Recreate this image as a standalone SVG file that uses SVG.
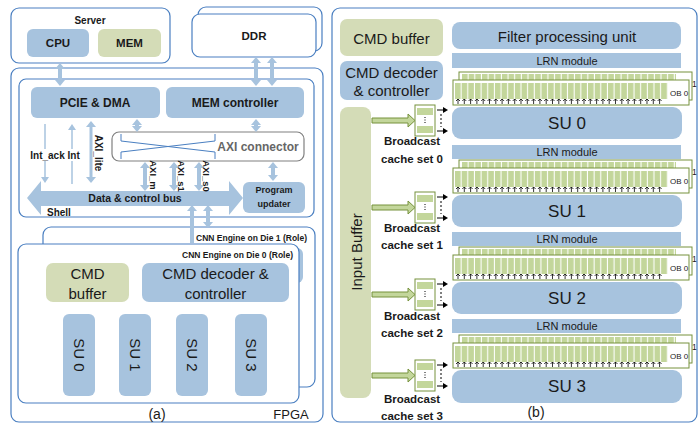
<svg xmlns="http://www.w3.org/2000/svg" width="699" height="426" viewBox="0 0 699 426">
<defs>
<style>
.ob{fill:#fff;stroke:#4a7fc1;stroke-width:1.2}
.bl{fill:#a7c3de}
.gr{fill:#d4dcb7}
.t{font-family:"Liberation Sans",Arial,sans-serif;fill:#1a1a1a;text-anchor:middle;dominant-baseline:central}
.b{font-weight:bold}
.da{stroke:#a7c3de;stroke-width:4;fill:none;marker-start:url(#ah);marker-end:url(#ah)}
.sa{stroke:#a7c3de;stroke-width:1.5;fill:none;marker-end:url(#ahs)}
.ol{stroke:#76923c;stroke-width:1}
.ka{stroke:#000;stroke-width:1;marker-end:url(#ka)}
</style>
<marker id="ah" viewBox="0 -5 6 10" refX="0" refY="0" markerWidth="6" markerHeight="10" markerUnits="userSpaceOnUse" orient="auto-start-reverse"><path d="M0,-5L6,0L0,5z" fill="#a7c3de"/></marker>
<marker id="ahs" viewBox="0 -4 6 8" refX="0" refY="0" markerWidth="6" markerHeight="8" markerUnits="userSpaceOnUse" orient="auto"><path d="M0,-4L6,0L0,4z" fill="#a7c3de"/></marker>
<marker id="ka" viewBox="0 -3 5 6" refX="0" refY="0" markerWidth="5" markerHeight="6" markerUnits="userSpaceOnUse" orient="auto"><path d="M0,-3L5,0L0,3z" fill="#000"/></marker>
<pattern id="cells" x="455" y="0" width="6.65" height="40" patternUnits="userSpaceOnUse"><rect width="5.6" height="40" fill="#c3d69b"/></pattern>
<pattern id="cells2" x="462" y="0" width="6.65" height="40" patternUnits="userSpaceOnUse"><rect width="5.6" height="40" fill="#c3d69b"/></pattern>
<path id="arw" fill="none" stroke="#000" stroke-width="0.8" d="M458,24v-5m-2,2l2,-2l2,2m4.3,3v-5m-2,2l2,-2l2,2m4.3,3v-5m-2,2l2,-2l2,2m4.3,3v-5m-2,2l2,-2l2,2m4.3,3v-5m-2,2l2,-2l2,2m4.3,3v-5m-2,2l2,-2l2,2m4.3,3v-5m-2,2l2,-2l2,2m4.3,3v-5m-2,2l2,-2l2,2m4.3,3v-5m-2,2l2,-2l2,2m4.3,3v-5m-2,2l2,-2l2,2m4.3,3v-5m-2,2l2,-2l2,2m4.3,3v-5m-2,2l2,-2l2,2m4.3,3v-5m-2,2l2,-2l2,2m4.3,3v-5m-2,2l2,-2l2,2m4.3,3v-5m-2,2l2,-2l2,2m4.3,3v-5m-2,2l2,-2l2,2m4.3,3v-5m-2,2l2,-2l2,2m4.3,3v-5m-2,2l2,-2l2,2m4.3,3v-5m-2,2l2,-2l2,2m4.3,3v-5m-2,2l2,-2l2,2m4.3,3v-5m-2,2l2,-2l2,2m4.3,3v-5m-2,2l2,-2l2,2m4.3,3v-5m-2,2l2,-2l2,2m4.3,3v-5m-2,2l2,-2l2,2m4.3,3v-5m-2,2l2,-2l2,2m4.3,3v-5m-2,2l2,-2l2,2m4.3,3v-5m-2,2l2,-2l2,2m4.3,3v-5m-2,2l2,-2l2,2m4.3,3v-5m-2,2l2,-2l2,2m4.3,3v-5m-2,2l2,-2l2,2m4.3,3v-5m-2,2l2,-2l2,2m4.3,3v-5m-2,2l2,-2l2,2m4.3,3v-5m-2,2l2,-2l2,2m4.3,3"/>
</defs>

<!-- ===== Panel (a) ===== -->
<g id="fpga"><rect x="11" y="68" width="312" height="354" rx="8" class="ob"/><text x="291" y="414" class="t" font-size="13">FPGA</text></g>
<text x="157" y="414" class="t" font-size="14">(a)</text>
<g id="server"><rect x="11" y="8" width="159" height="55" rx="8" class="ob"/><text x="90" y="20" class="t b" font-size="10">Server</text></g>
<g id="cpu"><rect x="27" y="29" width="62" height="28" rx="6" class="bl"/><text x="58" y="43" class="t b" font-size="11.5">CPU</text></g>
<g id="mem"><rect x="98" y="29" width="63" height="28" rx="6" class="gr"/><text x="129.5" y="43" class="t b" font-size="11.5">MEM</text></g>
<g id="ddr"><rect x="198" y="7" width="124" height="44" rx="8" class="ob"/><rect x="192" y="14" width="124" height="43" rx="8" class="ob"/><text x="254" y="36" class="t b" font-size="11.5">DDR</text></g>
<g id="shell"><rect x="19" y="79" width="295" height="138" rx="7" class="ob"/><text x="47" y="212" class="t b" font-size="10" style="text-anchor:start">Shell</text></g>
<g id="pcie"><rect x="31" y="87" width="129" height="31" rx="6" class="bl"/><text x="95" y="103" class="t b" font-size="12">PCIE &amp; DMA</text></g>
<g id="memctrl"><rect x="166" y="87" width="138" height="31" rx="6" class="bl"/><text x="235" y="103" class="t b" font-size="12">MEM controller</text></g>
<g id="axi"><rect x="112" y="132" width="192" height="29" rx="7" fill="#fff" stroke="#808080" stroke-width="1.2"/>
<path d="M121,134V141L215,152V159M121,159V152L215,141V134" fill="none" stroke="#4a7fc1" stroke-width="1"/>
<text x="258" y="147" class="t b" font-size="12" style="fill:#666">AXI connector</text></g>
<g id="bus"><polygon points="27,198 41,181 41,191 229,191 229,181 243,198 229,215 229,206 41,206 41,215" fill="#a7c3de"/><text x="135" y="198" class="t b" font-size="10.5">Data &amp; control bus</text></g>
<g id="progupd"><rect x="243" y="182" width="62" height="31" rx="6" class="bl"/><text x="274" y="190" class="t b" font-size="9">Program</text><text x="274" y="204" class="t b" font-size="9">updater</text></g>
<g id="die1"><rect x="43" y="227" width="272" height="160" rx="8" class="ob"/><rect x="200" y="248" width="103" height="35" rx="6" class="bl"/><text x="307" y="238" class="t b" font-size="8.5" style="text-anchor:end">CNN Engine on Die 1 (Role)</text></g>
<g id="die0"><rect x="18" y="244" width="281" height="159" rx="8" class="ob"/><text x="293" y="255" class="t b" font-size="8.5" style="text-anchor:end">CNN Engine on Die 0 (Role)</text></g>
<g id="cmdbufa"><rect x="46" y="263" width="83" height="39" rx="7" class="gr"/><text x="87.5" y="273" class="t" font-size="15">CMD</text><text x="87.5" y="293" class="t" font-size="15">buffer</text></g>
<g id="cmddeca"><rect x="142" y="263" width="147" height="39" rx="7" class="bl"/><text x="215.5" y="273" class="t" font-size="15">CMD decoder &amp;</text><text x="215.5" y="293" class="t" font-size="15">controller</text></g>
<g id="su0a"><rect x="63" y="314" width="32" height="82" rx="6" class="bl"/><text x="79" y="355" class="t" font-size="15" transform="rotate(90 79 355)">SU 0</text></g>
<g id="su1a"><rect x="119" y="314" width="32" height="82" rx="6" class="bl"/><text x="135" y="355" class="t" font-size="15" transform="rotate(90 135 355)">SU 1</text></g>
<g id="su2a"><rect x="176" y="314" width="32" height="82" rx="6" class="bl"/><text x="192" y="355" class="t" font-size="15" transform="rotate(90 192 355)">SU 2</text></g>
<g id="su3a"><rect x="235" y="314" width="32" height="82" rx="6" class="bl"/><text x="251" y="355" class="t" font-size="15" transform="rotate(90 251 355)">SU 3</text></g>

<g id="connectors-a">
<line x1="60" y1="69" x2="60" y2="80" class="da"/>
<line x1="256" y1="63" x2="256" y2="80" class="da"/>
<line x1="272" y1="63" x2="272" y2="80" class="da"/>
<line x1="137" y1="125" x2="137" y2="126" class="da"/>
<line x1="256" y1="125" x2="256" y2="126" class="da"/>
<line x1="91" y1="127" x2="91" y2="177" class="da" style="stroke-width:3"/>
<line x1="145" y1="168" x2="145" y2="185" class="da"/>
<line x1="174" y1="168" x2="174" y2="185" class="da"/>
<line x1="199" y1="168" x2="199" y2="185" class="da"/>
<line x1="273" y1="168" x2="273" y2="175" class="da"/>
<line x1="45" y1="124" x2="45" y2="177" class="sa"/>
<line x1="72" y1="184" x2="72" y2="130" class="sa"/>
<line x1="192" y1="243" x2="192" y2="211" class="sa" style="stroke-width:4;marker-end:url(#ah)"/>
<line x1="208" y1="211" x2="208" y2="222" class="da"/>
</g>
<rect x="29" y="149" width="53" height="12" fill="#fff"/>
<text x="55" y="155" class="t b" font-size="10">Int_ack Int</text>
<text x="98" y="153" class="t b" font-size="10" transform="rotate(90 98 153)">AXI_lite</text>
<text x="153" y="175" class="t b" font-size="9.5" transform="rotate(90 153 175)">AXI_m</text>
<text x="181" y="176" class="t b" font-size="9.5" transform="rotate(90 181 176)">AXI_s1</text>
<text x="206" y="176" class="t b" font-size="9.5" transform="rotate(90 206 176)">AXI_s0</text>

<!-- ===== Panel (b) ===== -->
<g id="panelb"><rect x="332" y="8" width="365" height="414" rx="8" class="ob"/></g>
<text x="536" y="412" class="t" font-size="14">(b)</text>
<g id="cmdbufb"><rect x="340" y="19" width="103" height="37" rx="7" class="gr"/><text x="391.5" y="38" class="t" font-size="15">CMD buffer</text></g>
<g id="fpu"><rect x="452" y="22" width="229" height="27" rx="8" class="bl"/><text x="567" y="36" class="t" font-size="15">Filter processing unit</text></g>
<g id="cmddecb"><rect x="340" y="61" width="103" height="39" rx="7" class="bl"/><text x="391.5" y="72" class="t" font-size="15">CMD decoder</text><text x="391.5" y="90" class="t" font-size="15">&amp; controller</text></g>
<g id="inbuf"><rect x="340" y="107" width="31" height="291" rx="8" class="gr"/><text x="356" y="252" class="t" font-size="15" transform="rotate(-90 356 252)">Input Buffer</text></g>

<!-- group 0 -->
<g id="lrn0"><rect x="452" y="53" width="229" height="15" class="bl"/><text x="567" y="61" class="t" font-size="11">LRN module</text></g>
<g id="ob0"><rect x="459" y="72" width="233" height="28" fill="#fff" class="ol"/><rect x="462" y="74" width="214" height="6" fill="url(#cells2)"/><rect x="453" y="80" width="236" height="25" fill="#fff" class="ol" stroke-width="1.2"/><rect x="455" y="83" width="213" height="16" fill="url(#cells)"/><use href="#arw" y="80"/><text x="670" y="93" class="t" font-size="8" style="text-anchor:start">OB 0</text><text x="692" y="84" class="t" font-size="8.5" style="text-anchor:start">1</text></g>
<g id="su0b"><rect x="452" y="107" width="230" height="32" rx="9" class="bl"/><text x="567" y="123" class="t" font-size="17">SU 0</text></g>
<g id="bc0"><rect x="415" y="105" width="20" height="31" fill="#fff" class="ol" stroke-width="1.2"/><rect x="417" y="108" width="16" height="7" fill="#c3d69b"/><rect x="417" y="126" width="16" height="7" fill="#c3d69b"/><line x1="425" y1="117" x2="425" y2="124" stroke="#000" stroke-dasharray="1,1.5"/><text x="412" y="141" class="t b" font-size="11.5">Broadcast</text><text x="412" y="159" class="t b" font-size="11.5">cache set 0</text></g>

<!-- group 1 -->
<g id="lrn1"><rect x="452" y="145" width="229" height="14" class="bl"/><text x="567" y="152" class="t" font-size="11">LRN module</text></g>
<g id="ob1"><rect x="459" y="160" width="233" height="28" fill="#fff" class="ol"/><rect x="462" y="162" width="214" height="6" fill="url(#cells2)"/><rect x="453" y="168" width="236" height="25" fill="#fff" class="ol" stroke-width="1.2"/><rect x="455" y="171" width="213" height="16" fill="url(#cells)"/><use href="#arw" y="168"/><text x="670" y="181" class="t" font-size="8" style="text-anchor:start">OB 0</text><text x="692" y="172" class="t" font-size="8.5" style="text-anchor:start">1</text></g>
<g id="su1b"><rect x="452" y="195" width="230" height="32" rx="9" class="bl"/><text x="567" y="211" class="t" font-size="17">SU 1</text></g>
<g id="bc1"><rect x="415" y="192" width="20" height="31" fill="#fff" class="ol" stroke-width="1.2"/><rect x="417" y="195" width="16" height="7" fill="#c3d69b"/><rect x="417" y="213" width="16" height="7" fill="#c3d69b"/><line x1="425" y1="204" x2="425" y2="211" stroke="#000" stroke-dasharray="1,1.5"/><text x="412" y="228" class="t b" font-size="11.5">Broadcast</text><text x="412" y="245" class="t b" font-size="11.5">cache set 1</text></g>

<!-- group 2 -->
<g id="lrn2"><rect x="452" y="232" width="229" height="14" class="bl"/><text x="567" y="239" class="t" font-size="11">LRN module</text></g>
<g id="ob2"><rect x="459" y="247" width="233" height="28" fill="#fff" class="ol"/><rect x="462" y="249" width="214" height="6" fill="url(#cells2)"/><rect x="453" y="255" width="236" height="25" fill="#fff" class="ol" stroke-width="1.2"/><rect x="455" y="258" width="213" height="16" fill="url(#cells)"/><use href="#arw" y="255"/><text x="670" y="268" class="t" font-size="8" style="text-anchor:start">OB 0</text><text x="692" y="259" class="t" font-size="8.5" style="text-anchor:start">1</text></g>
<g id="su2b"><rect x="452" y="282" width="230" height="32" rx="9" class="bl"/><text x="567" y="298" class="t" font-size="17">SU 2</text></g>
<g id="bc2"><rect x="415" y="279" width="20" height="31" fill="#fff" class="ol" stroke-width="1.2"/><rect x="417" y="282" width="16" height="7" fill="#c3d69b"/><rect x="417" y="300" width="16" height="7" fill="#c3d69b"/><line x1="425" y1="291" x2="425" y2="298" stroke="#000" stroke-dasharray="1,1.5"/><text x="412" y="316" class="t b" font-size="11.5">Broadcast</text><text x="412" y="333" class="t b" font-size="11.5">cache set 2</text></g>

<!-- group 3 -->
<g id="lrn3"><rect x="452" y="319" width="229" height="14" class="bl"/><text x="567" y="326" class="t" font-size="11">LRN module</text></g>
<g id="ob3"><rect x="459" y="335" width="233" height="28" fill="#fff" class="ol"/><rect x="462" y="337" width="214" height="6" fill="url(#cells2)"/><rect x="453" y="343" width="236" height="25" fill="#fff" class="ol" stroke-width="1.2"/><rect x="455" y="346" width="213" height="16" fill="url(#cells)"/><use href="#arw" y="343"/><text x="670" y="356" class="t" font-size="8" style="text-anchor:start">OB 0</text><text x="692" y="347" class="t" font-size="8.5" style="text-anchor:start">1</text></g>
<g id="su3b"><rect x="452" y="370" width="230" height="33" rx="9" class="bl"/><text x="567" y="386" class="t" font-size="17">SU 3</text></g>
<g id="bc3"><rect x="415" y="360" width="20" height="31" fill="#fff" class="ol" stroke-width="1.2"/><rect x="417" y="363" width="16" height="7" fill="#c3d69b"/><rect x="417" y="381" width="16" height="7" fill="#c3d69b"/><line x1="425" y1="372" x2="425" y2="379" stroke="#000" stroke-dasharray="1,1.5"/><text x="412" y="399" class="t b" font-size="11.5">Broadcast</text><text x="412" y="416" class="t b" font-size="11.5">cache set 3</text></g>

<g id="connectors-b">
<polygon points="372,118 408,118 408,114 415,120.5 408,127 408,123 372,123" fill="#c3d69b" class="ol"/>
<polygon points="372,205 408,205 408,201 415,207.5 408,214 408,210 372,210" fill="#c3d69b" class="ol"/>
<polygon points="372,292 408,292 408,288 415,294.5 408,301 408,297 372,297" fill="#c3d69b" class="ol"/>
<polygon points="372,373 408,373 408,369 415,375.5 408,382 408,378 372,378" fill="#c3d69b" class="ol"/>
<line x1="437" y1="110" x2="443" y2="110" class="ka"/><line x1="437" y1="131" x2="443" y2="131" class="ka"/><line x1="441" y1="114" x2="441" y2="127" stroke="#000" stroke-dasharray="2,2"/>
<line x1="437" y1="197" x2="443" y2="197" class="ka"/><line x1="437" y1="218" x2="443" y2="218" class="ka"/><line x1="441" y1="201" x2="441" y2="214" stroke="#000" stroke-dasharray="2,2"/>
<line x1="437" y1="284" x2="443" y2="284" class="ka"/><line x1="437" y1="305" x2="443" y2="305" class="ka"/><line x1="441" y1="288" x2="441" y2="301" stroke="#000" stroke-dasharray="2,2"/>
<line x1="437" y1="365" x2="443" y2="365" class="ka"/><line x1="437" y1="386" x2="443" y2="386" class="ka"/><line x1="441" y1="369" x2="441" y2="382" stroke="#000" stroke-dasharray="2,2"/>
</g>
</svg>
